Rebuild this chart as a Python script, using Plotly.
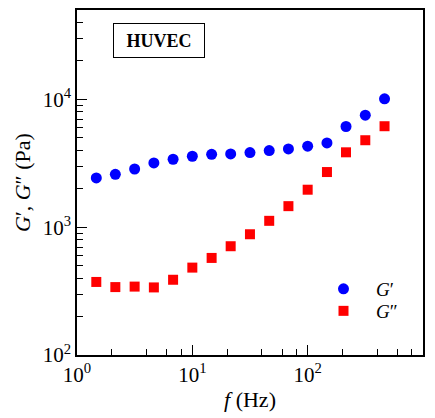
import plotly.graph_objects as go

# Data
freq = [1.47, 2.15, 3.16, 4.64, 6.81, 10.0, 14.7, 21.5, 31.6, 46.4, 68.1, 100, 147, 215, 316, 464]
g_storage = [2430, 2595, 2856, 3183, 3404, 3592, 3717, 3744, 3840, 3981, 4100, 4305, 4568, 6142, 7532, 10110]
g_loss = [373, 340, 343, 338, 388, 483, 575, 710, 881, 1122, 1462, 1966, 2703, 3857, 4795, 6172]

x_tickvals = [1, 10, 100, 1000]
x_ticktext = ["10<sup>0</sup>", "10<sup>1</sup>", "10<sup>2</sup>", "10<sup>3</sup>"]
x_minor = [2, 4, 6, 8, 20, 40, 60, 80, 200, 400, 600, 800]
y_tickvals = [100, 1000, 10000]
y_ticktext = ["10<sup>2</sup>", "10<sup>3</sup>", "10<sup>4</sup>"]

FONT = "Liberation Serif"

fig = go.Figure()
fig.add_trace(go.Scatter(
    x=freq, y=g_storage, mode="markers", name="<i>G</i>′", legend="legend",
    marker=dict(symbol="circle", size=11, color="#0000ff", line=dict(width=0)),
))
fig.add_trace(go.Scatter(
    x=freq, y=g_loss, mode="markers", name="<i>G</i>″", legend="legend2",
    marker=dict(symbol="square", size=10, color="#ff0000", line=dict(width=0)),
))

axis_common = dict(
    showgrid=False, zeroline=False, showline=True, linecolor="black", linewidth=1.5,
    mirror=True, ticks="inside", ticklen=10, tickwidth=1.3, tickcolor="black",
    tickfont=dict(family=FONT, size=21, color="black"), automargin=False,
)

fig.update_xaxes(
    type="log", range=[0, 3], tickmode="array", tickvals=x_tickvals, ticktext=x_ticktext,
    minor=dict(tickmode="array", tickvals=x_minor, ticks="inside", ticklen=6, tickwidth=1.2, tickcolor="black"),
    title=dict(text="<i>f</i> (Hz)", font=dict(family=FONT, size=22, color="black"), standoff=6),
    **axis_common,
)
fig.update_yaxes(
    type="log", range=[2, 4.70], tickmode="array", tickvals=y_tickvals, ticktext=y_ticktext,
    minor=dict(dtick="D1", ticks="inside", ticklen=6, tickwidth=1.2, tickcolor="black"),
    title=dict(text="<i>G</i>′, <i>G</i>″ (Pa)", font=dict(family=FONT, size=22, color="black"), standoff=6),
    **axis_common,
)

fig.add_annotation(
    xref="paper", yref="paper", x=(158.5 - 77) / 346, y=(355 - 40) / 345,
    xanchor="center", yanchor="middle",
    text="<b>HUVEC</b>", showarrow=False,
    font=dict(family=FONT, size=18, color="black"),
    bordercolor="black", borderwidth=1, borderpad=7, width=76, height=19,
)

legend_common = dict(
    xanchor="left", yanchor="top", bgcolor="rgba(0,0,0,0)", itemwidth=55,
    font=dict(family=FONT, size=19, color="black"),
)

fig.update_layout(
    width=435, height=418,
    margin=dict(l=77, r=12, t=10, b=63),
    paper_bgcolor="white", plot_bgcolor="white",
    showlegend=True,
    legend=dict(x=(311 - 77) / 346, y=(355 - 270) / 345, **legend_common),
    legend2=dict(x=(311 - 77) / 346, y=(355 - 292) / 345, **legend_common),
)

fig.write_html(
    "out.html",
    config={"displayModeBar": False},
    post_script="document.body.style.margin='0';document.body.style.overflow='hidden';",
)
